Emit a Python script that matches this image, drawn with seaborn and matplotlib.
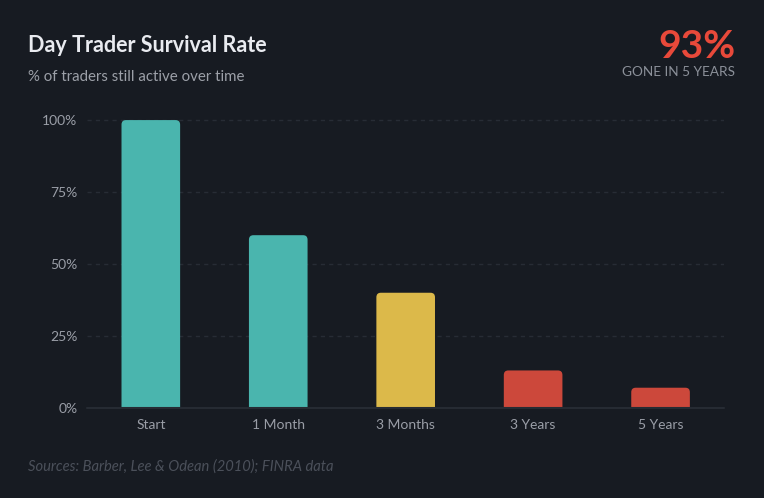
import pandas as pd
import matplotlib.pyplot as plt
import seaborn as sns
from matplotlib.patches import FancyBboxPatch

# Data
stages = ['Start', '1 Month', '3 Months', '3 Years', '5 Years']
active_pct = [100, 60, 40, 13, 7]
bar_colors = ['#4ab5ae', '#4ab5ae', '#dcb94a', '#cc483b', '#cc483b']
y_ticks = [0, 25, 50, 75, 100]

bg = '#171b22'
df = pd.DataFrame({'stage': stages, 'pct': active_pct})

sns.set_style('dark')
plt.rcParams['font.family'] = ['Lato', 'DejaVu Sans']

fig = plt.figure(figsize=(7.64, 4.98), dpi=100, facecolor=bg)
ax = fig.add_axes([0.114, 0.181, 0.834, 0.601], facecolor=bg)

sns.barplot(data=df, x='stage', y='pct', hue='stage', palette=bar_colors,
            saturation=1, legend=False, width=0.46, ax=ax, zorder=3)

# swap the square bars for ones with rounded tops (bottoms get clipped at 0)
ax.set_ylim(0, 104)
ax.set_xlim(-0.5, 4.5)
for p in list(ax.patches):
    x0, w, h = p.get_x(), p.get_width(), p.get_height()
    fc = p.get_facecolor()
    p.set_visible(False)
    rb = FancyBboxPatch((x0, -5), w, h + 5,
                        boxstyle='round,pad=0,rounding_size=0.035',
                        mutation_aspect=45, facecolor=fc, edgecolor='none',
                        zorder=3, clip_on=True)
    ax.add_patch(rb)

ax.set_yticks(y_ticks)
ax.set_yticklabels([f'{t}%' for t in y_ticks])
for t in y_ticks[1:]:
    ax.axhline(t, color='#272c35', lw=1, ls=(0, (3, 3)), zorder=1)
ax.axhline(0, color='#262b33', lw=1.5, zorder=4, clip_on=False)

ax.tick_params(axis='both', length=0, colors='#9a9ea7', labelsize=10)
ax.tick_params(axis='y', pad=7)
ax.tick_params(axis='x', pad=8)
ax.set_xlabel('')
ax.set_ylabel('')
ax.grid(False)
for s in ax.spines.values():
    s.set_visible(False)

# titles and callout
fig.text(28 / 764, 1 - 46 / 498, 'Day Trader Survival Rate', color='#e9ebf0',
         fontsize=15.5, fontweight='bold', va='center', ha='left')
fig.text(28 / 764, 1 - 77 / 498, '% of traders still active over time',
         color='#9ca0a8', fontsize=10.8, va='center', ha='left')
fig.text(735 / 764, 1 - 46 / 498, '93%', color='#e8493a', fontsize=28,
         fontweight='bold', va='center', ha='right')
fig.text(735 / 764, 1 - 72 / 498, 'GONE IN 5 YEARS', color='#8b9099',
         fontsize=9.8, va='center', ha='right')
fig.text(28 / 764, 1 - 467 / 498, 'Sources: Barber, Lee & Odean (2010); FINRA data',
         color='#4b505a', fontsize=10.6, style='italic', va='center', ha='left')

fig.savefig('out.png', dpi=100, facecolor=bg)
